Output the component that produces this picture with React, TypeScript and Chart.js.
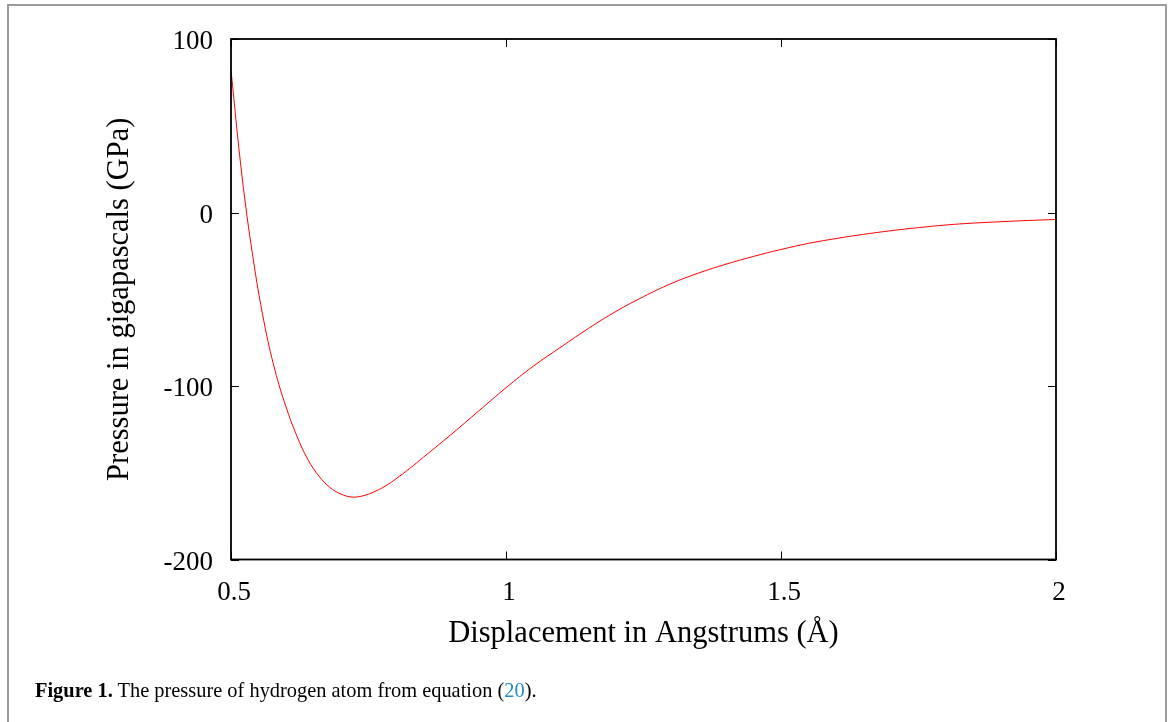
import React, { useEffect, useRef } from "react";
import { Chart, registerables } from "chart.js";

Chart.register(...registerables);

// Displacement in Angstrums (x) and pressure in GPa (y)
const displacement = [
  0.5, 0.52, 0.54, 0.56, 0.58, 0.6, 0.62, 0.64, 0.66, 0.68, 0.7, 0.72, 0.74,
  0.76, 0.78, 0.8, 0.825, 0.85, 0.9, 0.95, 1.0, 1.05, 1.1, 1.15, 1.2, 1.25,
  1.3, 1.35, 1.4, 1.45, 1.5, 1.55, 1.6, 1.65, 1.7, 1.75, 1.8, 1.85, 1.9, 1.95,
  2.0,
];
const pressure = [
  82, 21, -26, -63, -91, -112, -129, -142.5, -152, -158.5, -162.3, -164,
  -163.3, -161, -157.8, -153.5, -147.5, -141, -128, -114.5, -101, -88.5,
  -77.5, -66.8, -57, -48.5, -41, -34.9, -29.8, -25.3, -21.3, -17.8, -15,
  -12.6, -10.5, -8.7, -7.2, -6.1, -5.3, -4.6, -4.0,
];
const xTicks = [0.5, 1, 1.5, 2];
const yTicks = [-200, -100, 0, 100];

const xTitle = "Displacement in Angstrums (Å)";
const yTitle = "Pressure in gigapascals (GPa)";

const FONT = "'Liberation Serif', 'DejaVu Serif', serif";

const framePlugin = {
  id: "frameTicks",
  afterDraw(chart: any) {
    const { ctx, chartArea } = chart;
    const { left, right, top, bottom } = chartArea;
    const xs = chart.scales.x;
    const ys = chart.scales.y;
    const tl = 8;
    ctx.save();
    ctx.strokeStyle = "#000";
    ctx.lineWidth = 1;
    ctx.beginPath();
    for (const v of yTicks) {
      const y = Math.round(ys.getPixelForValue(v)) + 0.5;
      ctx.moveTo(left, y);
      ctx.lineTo(left + tl, y);
      ctx.moveTo(right, y);
      ctx.lineTo(right - tl, y);
    }
    for (const v of xTicks) {
      const x = Math.round(xs.getPixelForValue(v)) + 0.5;
      ctx.moveTo(x, bottom);
      ctx.lineTo(x, bottom - tl);
      ctx.moveTo(x, top);
      ctx.lineTo(x, top + tl);
    }
    ctx.stroke();
    ctx.lineWidth = 1.8;
    ctx.strokeRect(left, top, right - left, bottom - top);
    ctx.restore();
  },
};

export default function App() {
  const ref = useRef<HTMLCanvasElement | null>(null);

  useEffect(() => {
    if (!ref.current) return;
    const points = displacement.map((x, i) => ({ x, y: pressure[i] }));
    const chart = new Chart(ref.current, {
      type: "line",
      data: {
        datasets: [
          {
            data: points,
            borderColor: "rgb(255,0,0)",
            borderWidth: 1,
            pointRadius: 0,
            fill: false,
            tension: 0.4,
          },
        ],
      },
      options: {
        animation: false,
        responsive: false,
        devicePixelRatio: 1,
        layout: { padding: { left: 101.7, top: 39, right: 114, bottom: 69.7 } },
        plugins: { legend: { display: false }, tooltip: { enabled: false } },
        scales: {
          x: {
            type: "linear",
            min: 0.5,
            max: 2,
            afterBuildTicks: (s: any) => {
              s.ticks = xTicks.map((v) => ({ value: v }));
            },
            afterFit: (s: any) => {
              s.height = 92.8;
            },
            grid: { display: false, drawTicks: false },
            border: { display: false },
            ticks: {
              padding: 17,
              labelOffset: 3,
              color: "#000",
              font: { family: FONT, size: 27 },
              maxRotation: 0,
              autoSkip: false,
              callback: (v: any) => String(v),
            },
            title: {
              display: true,
              text: xTitle,
              color: "#000",
              padding: 0,
              font: { family: FONT, size: 30.5 },
            },
          },
          y: {
            type: "linear",
            min: -200,
            max: 100,
            afterBuildTicks: (s: any) => {
              s.ticks = yTicks.map((v) => ({ value: v }));
            },
            afterFit: (s: any) => {
              s.width = 129.3;
            },
            grid: { display: false, drawTicks: false },
            border: { display: false },
            ticks: {
              padding: 18,
              labelOffset: 3,
              color: "#000",
              font: { family: FONT, size: 27 },
              autoSkip: false,
              callback: (v: any) => String(v),
            },
            title: {
              display: true,
              text: yTitle,
              color: "#000",
              padding: 0,
              font: { family: FONT, size: 30.5 },
            },
          },
        },
      },
      plugins: [framePlugin],
    });
    return () => chart.destroy();
  }, []);

  return (
    <div
      style={{
        position: "absolute",
        left: 0,
        top: 0,
        width: 1170,
        height: 722,
        background: "#fff",
        overflow: "hidden",
      }}
    >
      <canvas
        ref={ref}
        width={1170}
        height={722}
        style={{ position: "absolute", left: 0, top: 0, width: 1170, height: 722 }}
      />
      <div
        style={{
          position: "absolute",
          left: 7,
          top: 4,
          width: 1156,
          height: 740,
          borderLeft: "2px solid #9b9b9b",
          borderTop: "2px solid #9b9b9b",
          borderRight: "2px solid #9b9b9b",
          pointerEvents: "none",
        }}
      />
      <div
        style={{
          position: "absolute",
          left: 35,
          top: 679,
          fontFamily: FONT,
          fontSize: 20.4,
          color: "#000",
          whiteSpace: "nowrap",
        }}
      >
        <b>Figure 1.</b> The pressure of hydrogen atom from equation (
        <span style={{ color: "#1f8cc4" }}>20</span>).
      </div>
    </div>
  );
}
